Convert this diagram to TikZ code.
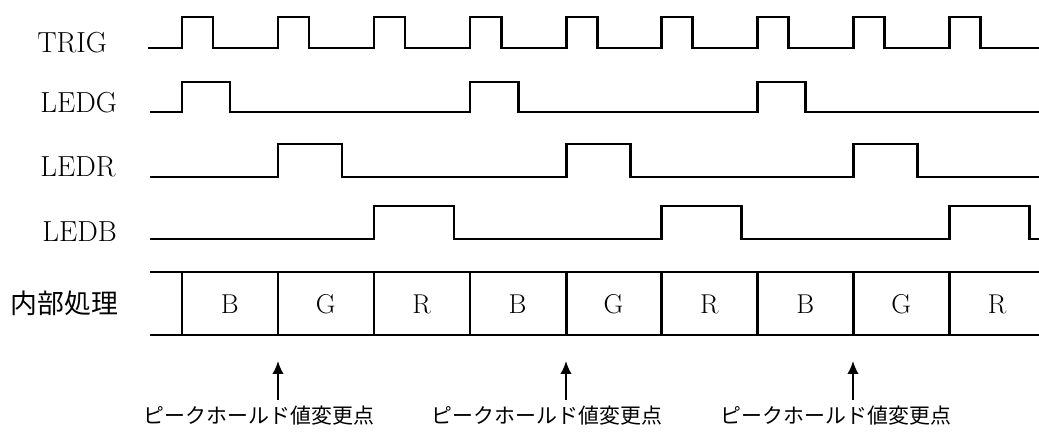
\documentclass[tikz,border=0pt]{standalone}
\usepackage{fontspec}
\newfontfamily\jpfont{Noto Sans CJK JP}
\usetikzlibrary{positioning,arrows.meta}
\newcommand{\peakHold}{\jpfont ピークホールド値変更点}
\newcommand{\innerProc}{\jpfont 内部処理}

\begin{document}
\begin{tikzpicture}[x=0.2mm,y=-0.2mm,
    wave/.style={line width=1.7pt,line join=miter},
    sig/.style={anchor=west,inner sep=0pt,font=\fontsize{16.5}{18}\selectfont\addfontfeature{FakeBold=1.2}},
    cell/.style={inner sep=0pt,font=\fontsize{15.5}{17}\selectfont\addfontfeature{FakeBold=0.8}},
    pkarrow/.style={line width=1.1pt,-{Latex[length=2.6mm,width=2.3mm]}},
    pklabel/.style={inner sep=0pt,font=\fontsize{11.9}{13}\selectfont}]
  \useasboundingbox (0,0) rectangle (1039,434);

  % signal names
  \node[sig] (trig) at (37,43)  {TRIG};
  \node[sig] (ledg) at (40,103) {LEDG};
  \node[sig] (ledr) at (40,167) {LEDR};
  \node[sig] (ledb) at (42,232) {LEDB};
  \node[anchor=west,inner sep=0pt,font=\fontsize{15.3}{17}\selectfont] (proc) at (10,303) {\innerProc};

  % waveforms
  \draw[wave] (148,48) \foreach \t in {182,278,374,470,566,661,757,853,949}
    { -- (\t,48) -- (\t,17) -- (\t+31,17) -- (\t+31,48) } -- (1039,48);
  \draw[wave] (150,112) \foreach \t in {182,470,757}
    { -- (\t,112) -- (\t,82) -- (\t+48,82) -- (\t+48,112) } -- (1039,112);
  \draw[wave] (150,177) \foreach \t in {278,566,853}
    { -- (\t,177) -- (\t,144) -- (\t+64,144) -- (\t+64,177) } -- (1039,177);
  \draw[wave] (150,239) \foreach \t in {374,661,949}
    { -- (\t,239) -- (\t,206) -- (\t+80,206) -- (\t+80,239) } -- (1039,239);

  % internal processing band
  \draw[wave] (150,272) -- (1039,272) (150,335) -- (1039,335);
  \foreach \s in {182,278,374,470,566,661,757,853,949}
    \draw[wave] (\s,272) -- (\s,335);
  \foreach \l [count=\i] in {B,G,R,B,G,R,B,G,R}
    \node[cell] (c_\i) at ({134+95.9*\i},304) {\l};

  % peak hold change points
  \coordinate (chg_1) at (278,361);
  \coordinate (chg_2) at (566,361);
  \coordinate (chg_3) at (853,361);
  \coordinate (src_1) at (278,400);
  \coordinate (src_2) at (566,400);
  \coordinate (src_3) at (853,400);
  \path[pkarrow] (src_1) edge (chg_1)
                 (src_2) edge (chg_2)
                 (src_3) edge (chg_3);
  \node[pklabel] (pk_1) at (259,416) {\peakHold};
  \node[pklabel] (pk_2) at (547,416) {\peakHold};
  \node[pklabel] (pk_3) at (836,416) {\peakHold};
\end{tikzpicture}
\end{document}
